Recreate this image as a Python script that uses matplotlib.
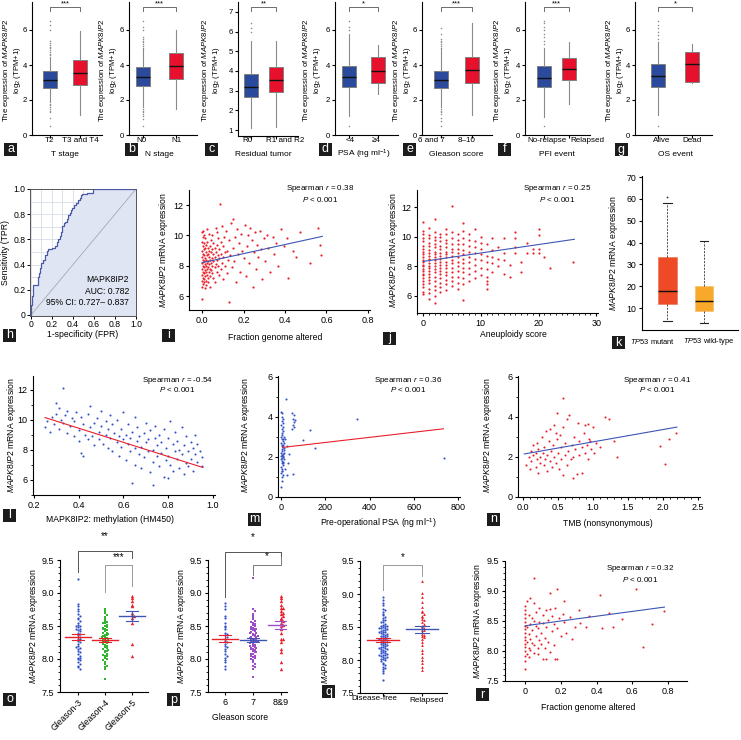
import numpy as np
import matplotlib
matplotlib.use("Agg")
import matplotlib.pyplot as plt
from matplotlib.patches import Rectangle
from matplotlib.ticker import MultipleLocator, FixedLocator

plt.rcParams['font.family'] = ['Liberation Sans', 'DejaVu Sans']
plt.rcParams['mathtext.fontset'] = 'custom'
plt.rcParams['mathtext.rm'] = 'Liberation Sans'
plt.rcParams['mathtext.it'] = 'Liberation Sans:italic'
plt.rcParams['axes.linewidth'] = 0.8

W, H = 741, 740

# ------------------------------------------------------------------ data
# row 1 box plots: [whisker low, Q1, median, Q3, whisker high]
a_cats = ["T2", "T3 and T4"]
a_blue = [1.9, 2.69, 3.12, 3.64, 4.45]
a_blue_fl = [0.5, 1.0, 1.3, 1.4, 1.5, 1.6, 1.7, 1.8, 4.55, 4.65, 4.75, 4.85, 4.95, 5.05,
             5.15, 5.25, 5.35, 6.0, 6.3, 6.5]
a_red = [1.14, 2.84, 3.54, 4.30, 5.93]
a_red_fl = []

b_cats = ["N0", "N1"]
b_blue = [1.6, 2.8, 3.3, 3.9, 4.9]
b_blue_fl = [0.5, 0.9, 1.1, 1.2, 1.3, 1.4, 1.5, 5.0, 5.1, 5.2, 5.3, 5.4, 5.5, 5.6, 6.0, 6.2, 6.5]
b_red = [1.5, 3.2, 3.96, 4.67, 6.0]
b_red_fl = []

c_cats = ["R0", "R1 and R2"]
c_blue = [1.1, 2.69, 3.2, 3.85, 5.5]
c_blue_fl = [5.98, 6.19, 6.44]
c_red = [1.17, 2.93, 3.54, 4.22, 5.5]
c_red_fl = []

d_cats = ["<4", "\u22654"]
d_blue = [1.1, 2.72, 3.3, 3.96, 5.8]
d_blue_fl = [0.5, 6.0, 6.2, 6.5]
d_red = [2.34, 2.95, 3.67, 4.47, 5.17]
d_red_fl = []

e_cats = ["6 and 7", "8\u201310"]
e_blue = [1.6, 2.67, 3.14, 3.67, 4.9]
e_blue_fl = [0.5, 0.8, 1.0, 1.2, 1.3, 1.4, 1.5, 5.0, 5.1, 5.2, 5.3, 5.4, 5.5, 5.8, 6.1]
e_red = [1.14, 2.95, 3.71, 4.47, 6.38]
e_red_fl = []

f_cats = ["No-relapse", "Relapsed"]
f_blue = [1.05, 2.76, 3.27, 3.94, 5.0]
f_blue_fl = [0.5, 5.2, 5.4, 5.6, 5.8, 6.0, 6.2, 6.4, 6.5]
f_red = [1.77, 3.14, 3.75, 4.42, 5.33]
f_red_fl = []

g_cats = ["Alive", "Dead"]
g_blue = [1.14, 2.76, 3.37, 4.04, 5.3]
g_blue_fl = [0.5, 5.5, 5.7, 5.9, 6.1, 6.3, 6.5]
g_red = [2.95, 3.05, 4.06, 4.73, 5.18]
g_red_fl = []

# h: ROC curve
roc_fpr = [0.000, 0.007, 0.015, 0.020, 0.040, 0.070, 0.080, 0.090, 0.100, 0.115, 0.130, 0.150,
           0.165, 0.180, 0.200, 0.230, 0.245, 0.260, 0.275, 0.290, 0.300, 0.310, 0.325, 0.340,
           0.355, 0.370, 0.380, 0.390, 0.410, 0.430, 0.450, 0.470, 0.480, 0.490, 0.530, 0.590,
           0.750, 1.000]
roc_tpr = [0.000, 0.080, 0.150, 0.240, 0.240, 0.240, 0.300, 0.330, 0.370, 0.410, 0.440, 0.480,
           0.510, 0.520, 0.520, 0.530, 0.550, 0.580, 0.600, 0.630, 0.660, 0.710, 0.730, 0.740,
           0.760, 0.790, 0.810, 0.830, 0.850, 0.870, 0.890, 0.910, 0.930, 0.950, 0.960, 0.970,
           1.000, 1.000]
roc_ytick_labels = ["0", "0.2", "0.4", "0.8", "0.8", "1.0"]

# i: fraction genome altered vs expression
i_pts = [(0.000, 7.0), (0.000, 7.4), (0.000, 7.8), (0.000, 8.2), (0.000, 8.6), (0.000, 9.0),
         (0.000, 9.6), (0.000, 10.2), (0.000, 6.6), (0.000, 5.8), (0.005, 7.2), (0.005, 7.6),
         (0.005, 8.0), (0.005, 8.4), (0.005, 8.8), (0.005, 9.3), (0.005, 9.9), (0.005, 6.8),
         (0.005, 10.3), (0.010, 7.1), (0.010, 7.5), (0.010, 7.9), (0.010, 8.3), (0.010, 8.7),
         (0.010, 9.1), (0.010, 9.5), (0.010, 6.9), (0.010, 10.0), (0.015, 7.3), (0.015, 7.7),
         (0.015, 8.1), (0.015, 8.5), (0.015, 9.2), (0.015, 6.5), (0.015, 9.8), (0.020, 7.0),
         (0.020, 7.6), (0.020, 8.0), (0.020, 8.4), (0.020, 8.9), (0.020, 9.4), (0.020, 6.7),
         (0.025, 7.4), (0.025, 7.8), (0.025, 8.2), (0.025, 8.7), (0.025, 9.6), (0.025, 10.4),
         (0.030, 7.2), (0.030, 7.9), (0.030, 8.3), (0.030, 8.8), (0.030, 9.2), (0.030, 6.9),
         (0.035, 7.6), (0.035, 8.1), (0.035, 8.6), (0.035, 9.0), (0.035, 10.1), (0.040, 7.3),
         (0.040, 7.8), (0.040, 8.4), (0.040, 9.3), (0.040, 6.6), (0.045, 7.7), (0.045, 8.2),
         (0.045, 8.9), (0.045, 9.7), (0.050, 7.5), (0.050, 8.0), (0.050, 8.5), (0.050, 9.1),
         (0.050, 10.0), (0.055, 7.2), (0.055, 8.3), (0.055, 8.8), (0.055, 9.5), (0.060, 7.9),
         (0.060, 8.6), (0.060, 9.2), (0.060, 6.9), (0.065, 8.1), (0.065, 8.9), (0.065, 10.5),
         (0.070, 7.6), (0.070, 8.4), (0.070, 9.4), (0.070, 10.2), (0.075, 8.0), (0.075, 8.7),
         (0.075, 9.8), (0.080, 7.4), (0.080, 8.5), (0.080, 9.1), (0.085, 12.1), (0.090, 7.8),
         (0.090, 8.8), (0.090, 9.6), (0.095, 8.2), (0.095, 10.6), (0.100, 7.1), (0.100, 8.6),
         (0.100, 9.3), (0.105, 9.9), (0.110, 8.0), (0.110, 8.9), (0.115, 10.3), (0.120, 7.5),
         (0.120, 9.0), (0.125, 8.4), (0.130, 5.6), (0.130, 9.7), (0.135, 8.7), (0.140, 10.8),
         (0.145, 7.9), (0.150, 11.1), (0.150, 9.2), (0.155, 8.3), (0.160, 9.9), (0.165, 6.9),
         (0.170, 10.4), (0.175, 8.8), (0.180, 9.5), (0.185, 7.6), (0.190, 10.1), (0.195, 9.0),
         (0.200, 8.5), (0.205, 10.7), (0.210, 7.3), (0.215, 9.3), (0.220, 10.0), (0.225, 8.2),
         (0.230, 10.5), (0.240, 9.7), (0.245, 6.6), (0.250, 8.9), (0.255, 10.2), (0.260, 7.8),
         (0.265, 9.4), (0.270, 8.6), (0.280, 10.3), (0.285, 9.1), (0.290, 7.1), (0.300, 9.8),
         (0.305, 8.3), (0.315, 10.0), (0.320, 9.2), (0.330, 7.6), (0.340, 9.9), (0.345, 8.8),
         (0.355, 9.5), (0.365, 8.0), (0.380, 10.4), (0.395, 9.3), (0.410, 9.8), (0.415, 7.2),
         (0.440, 9.0), (0.455, 8.6), (0.470, 10.2), (0.520, 8.2), (0.560, 10.5), (0.570, 9.4),
         (0.575, 8.7)]
i_fit = [8.2, 3.0]          # intercept, slope
i_fit_range = [0.0, 0.58]

# j: aneuploidy score vs expression (score, expression values)
j_cols = [(0, [6.1, 6.3, 6.6, 6.8, 7.0, 7.2, 7.4, 7.5, 7.7, 7.8, 8.0, 8.1, 8.3, 8.4, 8.6, 8.8,
               9.0, 9.2, 9.4, 9.7, 9.9, 10.2, 10.4, 11.0]),
          (1, [5.8, 6.2, 6.5, 6.9, 7.1, 7.3, 7.5, 7.7, 7.9, 8.0, 8.2, 8.4, 8.5, 8.7, 8.9, 9.1,
               9.4, 9.6, 9.9, 10.1, 10.6]),
          (2, [5.5, 6.0, 6.4, 6.7, 7.0, 7.3, 7.6, 7.8, 8.0, 8.2, 8.4, 8.6, 8.8, 9.0, 9.3, 9.5,
               9.8, 10.0, 10.3, 11.2]),
          (3, [6.3, 6.6, 6.9, 7.2, 7.5, 7.7, 7.9, 8.1, 8.3, 8.5, 8.7, 8.9, 9.2, 9.4, 9.7, 10.0,
               10.2]),
          (4, [6.4, 6.8, 7.1, 7.4, 7.6, 7.9, 8.1, 8.3, 8.6, 8.8, 9.0, 9.3, 9.6, 9.8, 10.2, 10.5]),
          (5, [6.7, 7.0, 7.3, 7.6, 7.9, 8.2, 8.4, 8.7, 9.0, 9.2, 9.5, 9.9, 10.3, 12.1]),
          (6, [6.5, 6.9, 7.3, 7.7, 8.0, 8.3, 8.6, 8.9, 9.2, 9.5, 9.8, 10.2]),
          (7, [5.7, 6.8, 7.2, 7.6, 7.9, 8.2, 8.5, 8.8, 9.1, 9.5, 9.9, 10.4, 10.9]),
          (8, [7.0, 7.5, 7.9, 8.3, 8.6, 9.0, 9.4, 9.8, 10.2]),
          (9, [7.2, 7.7, 8.1, 8.5, 8.9, 9.3, 9.7, 10.5]),
          (10, [7.4, 7.9, 8.4, 8.8, 9.2, 9.6, 10.0]),
          (11, [6.5, 6.8, 7.0, 7.3, 7.8, 8.3, 8.7, 9.5]),
          (12, [7.6, 8.2, 8.6, 9.1, 9.9]),
          (13, [8.0, 8.5, 9.3]),
          (14, [7.5, 8.4, 8.9, 9.9]),
          (15, [7.3, 8.1]),
          (16, [8.9, 9.3, 9.9, 10.3]),
          (17, [7.6, 8.3]),
          (18, [8.9, 9.6]),
          (19, [8.9, 9.2]),
          (20, [8.9, 9.2, 10.1, 10.5]),
          (21, [8.6]),
          (22, [7.9]),
          (26, [8.3])]
j_fit = [8.33, 0.057]
j_fit_range = [0.0, 26.2]

# k: TP53 status box plot
k_cats = ["TP53 mutant", "TP53 wild-type"]
k_mutant = [4.2, 11.7, 17.9, 33.6, 58.3]
k_mutant_fl = [61.0]
k_wild = [3.0, 8.8, 13.3, 20.0, 40.9]
k_wild_fl = []

# l: methylation vs expression
l_pts = [(0.25, 9.5), (0.26, 9.9), (0.27, 9.2), (0.28, 10.2), (0.29, 9.7), (0.30, 11.1),
         (0.30, 10.4), (0.31, 10.8), (0.31, 9.4), (0.32, 10.0), (0.33, 12.1), (0.33, 9.8),
         (0.34, 10.3), (0.35, 9.1), (0.35, 10.6), (0.36, 9.6), (0.37, 10.1), (0.38, 8.9),
         (0.38, 9.9), (0.39, 10.5), (0.40, 9.3), (0.40, 8.6), (0.41, 10.2), (0.41, 7.8),
         (0.42, 9.7), (0.42, 7.6), (0.43, 9.0), (0.44, 10.4), (0.44, 8.7), (0.45, 9.5),
         (0.45, 10.9), (0.46, 8.9), (0.47, 9.8), (0.47, 8.3), (0.48, 10.1), (0.49, 9.2),
         (0.49, 8.7), (0.50, 9.6), (0.50, 10.6), (0.51, 8.4), (0.52, 9.0), (0.52, 9.9),
         (0.53, 8.1), (0.53, 9.4), (0.54, 10.3), (0.54, 8.8), (0.55, 9.7), (0.55, 7.9),
         (0.56, 9.1), (0.57, 8.5), (0.57, 10.0), (0.58, 8.9), (0.58, 7.6), (0.59, 9.4),
         (0.59, 8.2), (0.60, 10.5), (0.60, 8.7), (0.61, 9.0), (0.61, 7.3), (0.62, 8.4),
         (0.62, 9.7), (0.63, 7.9), (0.63, 8.8), (0.64, 5.8), (0.64, 9.2), (0.65, 8.1),
         (0.65, 7.0), (0.65, 10.2), (0.66, 8.6), (0.66, 9.5), (0.67, 7.7), (0.67, 8.9),
         (0.68, 8.2), (0.68, 6.8), (0.69, 9.1), (0.69, 7.5), (0.70, 8.5), (0.70, 9.8),
         (0.71, 7.9), (0.71, 8.7), (0.72, 6.5), (0.72, 9.3), (0.73, 5.65), (0.73, 8.0),
         (0.73, 7.2), (0.74, 8.8), (0.74, 9.6), (0.75, 7.6), (0.75, 8.3), (0.76, 6.9),
         (0.76, 9.0), (0.77, 7.8), (0.77, 8.5), (0.78, 6.2), (0.78, 9.4), (0.79, 7.3),
         (0.79, 8.1), (0.80, 6.1), (0.80, 8.8), (0.80, 7.6), (0.81, 9.9), (0.81, 7.0),
         (0.82, 8.4), (0.82, 6.6), (0.83, 7.9), (0.83, 9.2), (0.84, 7.4), (0.84, 8.6),
         (0.85, 6.8), (0.85, 8.0), (0.86, 7.7), (0.86, 9.5), (0.87, 6.4), (0.87, 8.3),
         (0.88, 7.1), (0.88, 8.9), (0.89, 7.9), (0.89, 6.9), (0.90, 8.5), (0.90, 7.4),
         (0.91, 6.6), (0.91, 8.1), (0.92, 7.7), (0.92, 9.0), (0.93, 7.2), (0.93, 8.4),
         (0.94, 7.9), (0.95, 7.5), (0.95, 6.9)]
l_fit = [11.34, -4.72]
l_fit_range = [0.25, 0.955]

# m: pre-operational PSA vs expression
m_pts = [(2, 0.5), (3, 0.8), (5, 1.0), (1, 1.2), (4, 1.3), (6, 1.4), (2, 1.5), (8, 1.6), (3, 1.7),
         (5, 1.8), (1, 1.9), (7, 2.0), (4, 2.1), (2, 2.2), (6, 2.3), (3, 2.4), (9, 2.5), (5, 2.6),
         (1, 2.7), (8, 2.8), (4, 2.9), (2, 3.0), (6, 3.1), (3, 3.2), (10, 3.3), (5, 3.4), (7, 3.5),
         (2, 3.6), (4, 3.8), (6, 4.0), (3, 4.2), (1, 4.25), (9, 1.1), (11, 1.7), (12, 2.2),
         (10, 2.6), (13, 3.0), (14, 1.9), (12, 2.35), (8, 2.15), (15, 2.45), (11, 2.05), (7, 1.75),
         (9, 2.9), (6, 2.55), (13, 2.7), (4, 1.95), (2, 2.05), (8, 3.7), (10, 3.9), (23, 4.9),
         (50, 4.2), (52, 3.9), (55, 3.6), (58, 3.75), (60, 4.1), (48, 3.4), (62, 3.85), (57, 3.5),
         (36, 2.15), (100, 2.85), (132, 3.35), (155, 2.45), (345, 3.9), (736, 1.95), (27, 1.1),
         (54, 1.15), (5, 1.3), (18, 1.4), (20, 2.9), (25, 2.55), (30, 1.7)]
m_fit = [2.47, 0.00128]
m_fit_range = [7.0, 734.0]

# n: TMB vs expression
n_pts = [(0.05, 1.6), (0.08, 2.0), (0.10, 1.4), (0.12, 2.3), (0.12, 1.8), (0.15, 2.1),
         (0.15, 2.6), (0.18, 1.5), (0.18, 2.2), (0.20, 1.9), (0.20, 2.7), (0.22, 1.2),
         (0.22, 2.4), (0.25, 2.0), (0.25, 1.7), (0.27, 3.0), (0.28, 2.2), (0.30, 1.6),
         (0.30, 2.5), (0.32, 1.9), (0.33, 3.3), (0.35, 2.1), (0.35, 1.3), (0.37, 2.8),
         (0.38, 1.8), (0.39, 3.4), (0.40, 2.3), (0.42, 1.5), (0.43, 2.6), (0.45, 2.0),
         (0.45, 3.6), (0.47, 3.2), (0.47, 1.7), (0.48, 2.9), (0.49, 4.2), (0.50, 2.2),
         (0.52, 1.4), (0.53, 3.1), (0.55, 2.5), (0.55, 1.9), (0.57, 4.95), (0.57, 1.1),
         (0.57, 3.5), (0.60, 2.1), (0.60, 2.7), (0.63, 3.9), (0.63, 1.6), (0.65, 2.3),
         (0.66, 4.1), (0.68, 1.9), (0.70, 2.6), (0.71, 0.95), (0.72, 2.0), (0.73, 3.0),
         (0.75, 2.4), (0.77, 1.15), (0.79, 3.7), (0.80, 2.8), (0.80, 2.1), (0.84, 1.2),
         (0.85, 2.5), (0.87, 3.2), (0.88, 2.2), (0.89, 3.6), (0.92, 2.6), (0.93, 3.65),
         (0.93, 1.9), (0.95, 2.9), (0.96, 2.8), (0.97, 2.4), (1.00, 3.5), (1.02, 2.2),
         (1.05, 2.7), (1.10, 2.5), (1.17, 4.0), (1.23, 3.9), (1.30, 2.8), (1.35, 2.0),
         (1.96, 2.55), (2.03, 1.65), (2.09, 2.9), (2.19, 3.2)]
n_fit = [2.14, 0.616]
n_fit_range = [0.02, 2.2]

# o: Gleason pattern groups
o_cats = ["Gleason-3", "Gleason-4", "Gleason-5"]
o_g3 = [9.21, 8.83, 8.80, 8.75, 8.72, 8.68, 8.65, 8.62, 8.60, 8.57, 8.55, 8.52, 8.50, 8.48,
        8.46, 8.44, 8.42, 8.40, 8.38, 8.36, 8.34, 8.31, 8.28, 8.25, 8.22, 8.20, 8.17, 8.15,
        8.12, 8.10, 8.08, 8.05, 8.02, 8.00, 7.98, 7.95, 7.93, 7.90, 7.88, 7.85, 8.45, 8.50,
        8.30, 8.18, 8.02]
o_g4 = [8.75, 8.72, 8.70, 8.66, 8.63, 8.60, 8.58, 8.56, 8.54, 8.52, 8.50, 8.48, 8.47, 8.45,
        8.44, 8.42, 8.40, 8.39, 8.37, 8.36, 8.35, 8.33, 8.32, 8.31, 8.30, 8.29, 8.28, 8.27,
        8.25, 8.24, 8.22, 8.21, 8.20, 8.18, 8.17, 8.15, 8.14, 8.12, 8.10, 8.08, 8.06, 8.04,
        8.02, 8.00, 7.98, 7.95, 7.92, 7.90, 7.88, 7.85, 7.70, 8.38, 8.26, 8.12, 8.45, 8.55,
        8.05, 8.33]
o_g5 = [8.05, 8.22, 8.55, 8.62, 8.65, 8.67, 8.70, 8.80, 8.82, 8.88, 8.93, 8.96]

# p: Gleason score groups
p_cats = ["6", "7", "8&9"]
p_6 = [8.85, 8.80, 8.75, 8.65, 8.62, 8.55, 8.50, 8.45, 8.40, 8.36, 8.33, 8.30, 8.28, 8.25,
       8.22, 8.20, 8.15, 8.12, 8.08, 8.05, 8.02, 7.98, 7.95, 7.90, 7.85, 8.48, 8.38, 8.18]
p_7 = [9.22, 8.75, 8.72, 8.68, 8.65, 8.62, 8.60, 8.58, 8.56, 8.55, 8.53, 8.52, 8.50, 8.48,
       8.47, 8.46, 8.45, 8.44, 8.42, 8.41, 8.40, 8.38, 8.37, 8.36, 8.35, 8.34, 8.33, 8.32,
       8.31, 8.30, 8.29, 8.28, 8.27, 8.26, 8.25, 8.24, 8.22, 8.21, 8.20, 8.18, 8.17, 8.16,
       8.15, 8.13, 8.12, 8.10, 8.08, 8.07, 8.05, 8.03, 8.02, 8.00, 7.98, 7.95, 7.92, 7.90,
       7.88, 7.85, 7.72, 8.45, 8.35, 8.25, 8.15, 8.05, 8.40, 8.30, 8.20, 8.10]
p_89 = [8.95, 8.92, 8.88, 8.82, 8.78, 8.72, 8.70, 8.68, 8.65, 8.62, 8.60, 8.58, 8.55, 8.50,
        8.45, 8.40, 8.30, 8.25, 8.15, 8.10, 8.30, 8.78, 7.95, 7.85, 8.52]

# q: relapse status
q_cats = ["Disease-free", "Relapsed"]
q_df = [8.95, 8.91, 8.86, 8.83, 8.78, 8.76, 8.72, 8.69, 8.68, 8.65, 8.64, 8.61, 8.60, 8.58,
        8.57, 8.55, 8.53, 8.52, 8.51, 8.50, 8.49, 8.48, 8.47, 8.46, 8.45, 8.44, 8.43, 8.42,
        8.41, 8.40, 8.39, 8.38, 8.37, 8.36, 8.35, 8.34, 8.33, 8.32, 8.31, 8.30, 8.29, 8.28,
        8.27, 8.26, 8.25, 8.24, 8.23, 8.22, 8.21, 8.20, 8.19, 8.18, 8.17, 8.16, 8.15, 8.14,
        8.13, 8.12, 8.11, 8.10, 8.09, 8.08, 8.07, 8.06, 8.05, 8.04, 8.03, 8.02, 8.01, 8.00,
        7.98, 7.96, 7.94, 7.92, 7.90, 7.88, 7.86, 7.84, 7.80, 7.70, 8.48, 8.36, 8.28, 8.18,
        8.08, 8.52, 8.42, 8.32]
q_rel = [9.20, 9.02, 8.95, 8.88, 8.80, 8.72, 8.70, 8.66, 8.62, 8.58, 8.55, 8.52, 8.50, 8.48,
         8.45, 8.42, 8.40, 8.38, 8.36, 8.32, 8.28, 8.22, 8.15, 8.10, 8.05, 8.00, 7.95, 7.90,
         7.85, 8.60, 8.45, 8.35, 8.65, 8.75]

# r: fraction genome altered vs expression
r_pts = [(0.0, 7.70), (0.0, 7.83), (0.0, 7.92), (0.0, 8.00), (0.0, 8.06), (0.0, 8.12),
         (0.0, 8.18), (0.0, 8.24), (0.0, 8.30), (0.0, 8.36), (0.0, 8.42), (0.0, 8.48),
         (0.0, 8.55), (0.0, 8.62), (0.0, 8.68), (0.0, 8.75), (0.01, 8.83), (0.01, 7.95),
         (0.01, 8.15), (0.01, 8.40), (0.02, 8.05), (0.02, 8.28), (0.02, 8.60), (0.02, 7.90),
         (0.03, 8.88), (0.03, 8.20), (0.03, 8.45), (0.03, 8.02), (0.04, 8.35), (0.04, 8.13),
         (0.04, 8.55), (0.05, 9.22), (0.05, 8.80), (0.05, 8.10), (0.05, 8.50), (0.05, 7.97),
         (0.06, 8.25), (0.06, 8.42), (0.06, 8.65), (0.07, 8.05), (0.07, 8.38), (0.07, 7.95),
         (0.08, 8.48), (0.08, 8.18), (0.08, 8.72), (0.09, 8.30), (0.09, 8.12), (0.10, 7.87),
         (0.10, 8.46), (0.10, 8.60), (0.11, 8.22), (0.11, 8.05), (0.12, 7.86), (0.12, 8.68),
         (0.12, 8.40), (0.13, 8.15), (0.13, 8.52), (0.14, 8.97), (0.14, 7.98), (0.14, 8.70),
         (0.15, 8.33), (0.15, 8.58), (0.16, 8.45), (0.16, 8.10), (0.17, 8.72), (0.17, 7.86),
         (0.18, 9.04), (0.18, 8.38), (0.18, 7.87), (0.19, 8.55), (0.20, 8.25), (0.21, 8.62),
         (0.22, 8.84), (0.22, 8.48), (0.23, 8.30), (0.25, 8.56), (0.26, 8.20), (0.28, 8.40),
         (0.30, 8.68), (0.31, 8.46), (0.34, 8.40), (0.36, 8.58), (0.42, 8.94), (0.43, 8.38),
         (0.47, 8.63), (0.49, 8.40), (0.54, 8.54), (0.62, 9.04), (0.66, 8.07), (0.71, 8.45),
         (0.78, 8.66)]
r_fit = [8.42, 0.40]
r_fit_range = [0.0, 0.78]

# ------------------------------------------------------------------ helpers
BLUE_BOX, RED_BOX = '#2b4a9b', '#e8112d'
BLUE_PT, RED_PT, GREEN_PT, PURPLE_PT = '#3352c8', '#e8202a', '#2fb52f', '#a24bc8'
LINE_BLUE, LINE_RED = '#3d55b5', '#e8202a'

fig = plt.figure(figsize=(W / 100, H / 100), dpi=100)
fig.patch.set_facecolor('white')


def pax(x0, y0, x1, y1):
    return fig.add_axes([x0 / W, 1 - y1 / H, (x1 - x0) / W, (y1 - y0) / H])


def ftext(x, y, s, **kw):
    kw.setdefault('fontsize', 6.2)
    kw.setdefault('ha', 'center')
    kw.setdefault('va', 'center')
    return fig.text(x / W, 1 - y / H, s, **kw)


def tag(x0, y0, s):
    fig.add_artist(Rectangle((x0 / W, 1 - (y0 + 13) / H), 13 / W, 13 / H,
                             transform=fig.transFigure, fc='#1c1c1c', ec='none'))
    ftext(x0 + 6.5, y0 + 6.5, s, color='white', fontsize=9)


def style(ax, fs=6.5):
    for s in ('top', 'right'):
        ax.spines[s].set_visible(False)
    ax.tick_params(labelsize=fs, length=2.5, width=0.8, pad=1.5)
    ax.tick_params(which='minor', length=1.5, width=0.6)


GENE_Y = '$\\mathit{MAPK8IP2}$ mRNA expression'


def spearman(x, y, r):
    ftext(x, y, 'Spearman $\\mathit{r}$ = ' + r, fontsize=5.8)
    ftext(x, y + 10, '$\\mathit{P}$ < 0.001', fontsize=5.8)


# ------------------------------------------------------------------ row 1
def box_panel(left, c1, c2, right, ylim, yticks, cats, lab_x, lo, hi, lo_fl, hi_fl,
              xlab, stars, ylab_x, tagpos, letter, top=2, bottom=135):
    u = c2 - c1
    ax = pax(left, top, right, bottom)
    ax.set_xlim(1 - (c1 - left) / u, 2 + (right - c2) / u)
    ax.set_ylim(*ylim)
    stats = [dict(whislo=s[0], q1=s[1], med=s[2], q3=s[3], whishi=s[4], fliers=fl)
             for s, fl in ((lo, lo_fl), (hi, hi_fl))]
    bp = ax.bxp(stats, positions=[1, 2], widths=14 / u, patch_artist=True, showcaps=False,
                boxprops=dict(edgecolor='#7f7f7f', linewidth=0.7),
                medianprops=dict(color='#111111', linewidth=1.0),
                whiskerprops=dict(color='#8a8a8a', linewidth=0.8),
                flierprops=dict(marker='o', markersize=1.1, markerfacecolor='#8c8c8c',
                                markeredgecolor='none'))
    for b, c in zip(bp['boxes'], [BLUE_BOX, RED_BOX]):
        b.set_facecolor(c)
    style(ax, fs=5.6)
    ax.tick_params(axis='y', pad=1)
    ax.set_yticks(yticks)
    ax.set_xticks([1, 2])
    ax.set_xticklabels(['', ''])
    ax.tick_params(axis='x', length=2, pad=1)
    for lx, cat in zip(lab_x, cats):
        ftext(lx, 141, cat, fontsize=5.8)

    def pyd(py):
        return ylim[1] - (py - top) / (bottom - top) * (ylim[1] - ylim[0])
    ax.plot([1, 1, 2, 2], [pyd(11), pyd(7), pyd(7), pyd(11)], color='#555555', lw=0.6,
            clip_on=False)
    ax.text(1.5, pyd(4), stars, ha='center', va='center', fontsize=5.5, clip_on=False)
    ftext((c1 + c2) / 2, 154, xlab, fontsize=6.0)
    ftext(ylab_x, 70, 'The expression of $\\mathit{MAPK8IP2}$\nlog$_2$ (TPM+1)',
          rotation=90, fontsize=5.6, linespacing=1.1)
    tag(tagpos, 143, letter)


box_panel(32, 50, 80, 102, (0, 7.6), [0, 2, 4, 6], a_cats, [50, 80], a_blue, a_red,
          a_blue_fl, a_red_fl, 'T stage', '***', 12, 4, 'a')
box_panel(129, 143, 176, 197, (0, 7.6), [0, 2, 4, 6], b_cats, [141, 177], b_blue, b_red,
          b_blue_fl, b_red_fl, 'N stage', '***', 108, 125, 'b')
box_panel(238, 251, 276, 298, (0.7, 7.5), [1, 2, 3, 4, 5, 6, 7], c_cats, [247, 285],
          c_blue, c_red, c_blue_fl, c_red_fl, 'Residual tumor', '**', 211, 205, 'c',
          bottom=136)
box_panel(335, 349, 378, 398, (0, 7.6), [0, 2, 4, 6], d_cats, [350, 376], d_blue, d_red,
          d_blue_fl, d_red_fl, 'PSA (ng ml$^{-1}$)', '*', 312, 319, 'd')
box_panel(422, 441, 472, 492, (0, 7.6), [0, 2, 4, 6], e_cats, [431, 467], e_blue, e_red,
          e_blue_fl, e_red_fl, 'Gleason score', '***', 402, 403, 'e')
box_panel(525, 544, 569, 590, (0, 7.6), [0, 2, 4, 6], f_cats, [547, 587], f_blue, f_red,
          f_blue_fl, f_red_fl, 'PFI event', '***', 503, 498, 'f')
box_panel(635, 658, 692, 712, (0, 7.6), [0, 2, 4, 6], g_cats, [662, 692], g_blue, g_red,
          g_blue_fl, g_red_fl, 'OS event', '*', 615, 615, 'g')

# ------------------------------------------------------------------ h: ROC
ax = pax(30, 189, 136, 316)
ax.set_xlim(-0.0095, 1.0)
ax.set_ylim(-0.008, 1.0)
ax.set_facecolor('white')
ax.xaxis.set_minor_locator(MultipleLocator(0.1))
ax.yaxis.set_minor_locator(MultipleLocator(0.1))
ax.grid(which='both', color='#cdd4e4', lw=0.5)
ax.set_axisbelow(True)
ax.fill_between(roc_fpr, roc_tpr, 0, step='pre', color='#dfe5f3', lw=0, zorder=1)
ax.plot([0, 1], [0, 1], color='#a8a8b0', lw=0.6, zorder=2)
ax.plot(roc_fpr, roc_tpr, drawstyle='steps-pre', color='#4a5aa8', lw=0.9, zorder=3)
for s in ax.spines.values():
    s.set_color('#555555')
    s.set_linewidth(0.7)
ax.tick_params(labelsize=6.2, length=2, pad=1.0, width=0.7)
ax.tick_params(which='minor', length=0)
ax.set_xticks([0, 0.2, 0.4, 0.6, 0.8, 1.0])
ax.set_xticklabels(['0', '0.2', '0.4', '0.6', '0.8', '1.0'])
ax.set_yticks([0, 0.2, 0.4, 0.6, 0.8, 1.0])
ax.set_yticklabels(roc_ytick_labels)
ftext(129, 280, 'MAPK8IP2', ha='right', fontsize=6.2)
ftext(129, 291, 'AUC: 0.782', ha='right', fontsize=6.2)
ftext(129, 303, '95% CI: 0.727\u2013 0.837', ha='right', fontsize=6.2)
ftext(6, 252, 'Sensitivity (TPR)', rotation=90)
ftext(83, 334, '1-specificity (FPR)')
tag(3, 329, 'h')

# ------------------------------------------------------------------ i
ix, iy = np.array(i_pts).T
ax = pax(189, 190, 370, 310)
style(ax)
ax.scatter(ix, iy, s=2.5, color=RED_PT, lw=0)
xs = np.array(i_fit_range)
ax.plot(xs, i_fit[0] + i_fit[1] * xs, color=LINE_BLUE, lw=0.8)
ax.set_xlim(-0.063, 0.81)
ax.set_ylim(5.08, 13.0)
ax.set_xticks([0, 0.2, 0.4, 0.6, 0.8])
ax.set_xticklabels(['0.0', '0.2', '0.4', '0.6', '0.8'])
ax.set_yticks([6, 8, 10, 12])
spearman(320, 189, '0.38')
ftext(164, 250, GENE_Y, rotation=90)
ftext(275, 338, 'Fraction genome altered')
tag(162, 329, 'i')

# ------------------------------------------------------------------ j
jx = [s for s, ys in j_cols for _ in ys]
jy = [v for s, ys in j_cols for v in ys]
ax = pax(417, 190, 598, 313)
style(ax)
ax.scatter(jx, jy, s=2.5, color=RED_PT, lw=0)
xs = np.array(j_fit_range)
ax.plot(xs, j_fit[0] + j_fit[1] * xs, color=LINE_BLUE, lw=0.8)
ax.set_xlim(-1.05, 30.3)
ax.set_ylim(4.85, 13.15)
ax.set_xticks([0, 10, 20, 30])
ax.xaxis.set_minor_locator(MultipleLocator(1))
ax.set_yticks([6, 8, 10, 12])
spearman(557, 189, '0.25')
ftext(394, 250, GENE_Y, rotation=90)
ftext(513, 335, 'Aneuploidy score')
tag(383, 332, 'j')

# ------------------------------------------------------------------ k
ax = pax(642, 176, 738, 330)
ax.set_xlim(0.32, 2.92)
ax.set_ylim(0, 70.5)
kst = [dict(whislo=s[0], q1=s[1], med=s[2], q3=s[3], whishi=s[4], fliers=fl)
       for s, fl in ((k_mutant, k_mutant_fl), (k_wild, k_wild_fl))]
bp = ax.bxp(kst, positions=[1, 2], widths=0.51, patch_artist=True, capwidths=0.24,
            boxprops=dict(linewidth=0.5),
            medianprops=dict(color='#111111', linewidth=1.0),
            whiskerprops=dict(color='#333333', linewidth=0.6, linestyle=(0, (2.5, 1.5))),
            capprops=dict(color='#222222', linewidth=0.8),
            flierprops=dict(marker='o', markersize=1.3, markerfacecolor='#333333',
                            markeredgecolor='none'))
for b, fc, ec in zip(bp['boxes'], ['#ef4a26', '#f8a92c'], ['#f07a60', '#f9c070']):
    b.set_facecolor(fc)
    b.set_edgecolor(ec)
style(ax, fs=6.3)
ax.set_yticks([10, 20, 30, 40, 50, 60, 70])
ax.set_xticks([])
ftext(652, 342, '$\\mathit{TP53}$ mutant', fontsize=5.4)
ftext(709, 342, '$\\mathit{TP53}$ wild-type', fontsize=5.4)
ftext(614, 253, GENE_Y, rotation=90)
tag(612, 336, 'k')

# ------------------------------------------------------------------ l
lx, ly = np.array(l_pts).T
ax = pax(33, 376, 215, 495)
style(ax)
ax.scatter(lx, ly, s=2.2, color=BLUE_PT, lw=0)
xs = np.array(l_fit_range)
ax.plot(xs, l_fit[0] + l_fit[1] * xs, color=LINE_RED, lw=0.8)
ax.set_xlim(0.196, 1.009)
ax.set_ylim(5, 12.93)
ax.set_xticks([0.2, 0.4, 0.6, 0.8, 1.0])
ax.set_xticklabels(['0.2', '0.4', '0.6', '0.8', '1.0'])
ax.set_yticks([6, 8, 10, 12])
ax.yaxis.set_minor_locator(MultipleLocator(1))
spearman(177, 380, '-0.54')
ftext(12, 435, GENE_Y, rotation=90)
ftext(110, 519, 'MAPK8IP2: methylation (HM450)')
tag(3, 509, 'l')

# ------------------------------------------------------------------ m
mx, my = np.array(m_pts).T
ax = pax(278, 376, 460, 497)
style(ax)
ax.scatter(mx, my, s=2.2, color=BLUE_PT, lw=0)
xs = np.array(m_fit_range)
ax.plot(xs, m_fit[0] + m_fit[1] * xs, color=LINE_RED, lw=0.8)
ax.set_xlim(-13.6, 809)
ax.set_ylim(0, 6.05)
ax.set_xticks([0, 200, 400, 600, 800])
ax.set_yticks([0, 2, 4, 6])
ax.yaxis.set_minor_locator(MultipleLocator(1))
spearman(408, 380, '0.36')
ftext(245, 435, GENE_Y, rotation=90)
ftext(378, 523, 'Pre-operational PSA (ng ml$^{-1}$)')
tag(248, 513, 'm')

# ------------------------------------------------------------------ n
nx, ny = np.array(n_pts).T
ax = pax(518, 376, 700, 497)
style(ax)
ax.scatter(nx, ny, s=2.2, color=RED_PT, lw=0)
xs = np.array(n_fit_range)
ax.plot(xs, n_fit[0] + n_fit[1] * xs, color=LINE_BLUE, lw=0.8)
ax.set_xlim(-0.07, 2.53)
ax.set_ylim(0, 6.05)
ax.set_xticks([0, 0.5, 1.0, 1.5, 2.0, 2.5])
ax.set_xticklabels(['0.0', '0.5', '1.0', '1.5', '2.0', '2.5'])
ax.xaxis.set_minor_locator(MultipleLocator(0.1))
ax.set_yticks([0, 2, 4, 6])
ax.yaxis.set_minor_locator(MultipleLocator(1))
spearman(657, 380, '0.41')
ftext(487, 435, GENE_Y, rotation=90)
ftext(608, 523, 'TMB (nonsynonymous)')
tag(487, 513, 'n')


# ------------------------------------------------------------------ row 4 dot plots
def swarm(vals, step, bin_h):
    vals = np.asarray(vals, float)
    offs = np.zeros(len(vals))
    bins = np.floor((vals - vals.min()) / bin_h).astype(int)
    for b in np.unique(bins):
        idx = np.where(bins == b)[0]
        for k, i in enumerate(idx):
            offs[i] = ((k + 1) // 2) * step * (1 if k % 2 else -1)
    return offs


def meanbar(ax, x, vals, color, half_w, cap_w):
    m = np.mean(vals)
    se = np.std(vals, ddof=1) / np.sqrt(len(vals))
    ax.plot([x - half_w, x + half_w], [m, m], color=color, lw=1.0, zorder=4)
    ax.plot([x, x], [m - se, m + se], color=color, lw=0.8, zorder=4)
    for yy in (m - se, m + se):
        ax.plot([x - cap_w, x + cap_w], [yy, yy], color=color, lw=0.8, zorder=4)


def dot_axes(x0, x1, c1, c2, top, y95, y75):
    u = c2 - c1
    unit = (y75 - y95) / 2.0
    ax = pax(x0, top, x1, y75)
    ax.set_xlim(1 - (c1 - x0) / u, 2 + (x1 - c2) / u)
    ax.set_ylim(7.5, 7.5 + (y75 - top) / unit)
    style(ax)
    ax.spines['left'].set_bounds(7.5, 9.5)
    ax.set_yticks([7.5, 8.0, 8.5, 9.0, 9.5])
    ax.set_yticklabels(['7.5', '8.0', '8.5', '9.0', '9.5'])
    ax.yaxis.set_minor_locator(FixedLocator([v / 10 for v in range(76, 95) if v % 5]))

    def pyd(py):
        return 7.5 + (y75 - py) / unit
    return ax, pyd


def bracket(ax, pyd, xa, xb, py_h, py_a, py_b, stars, py_s, color):
    ax.plot([xa, xa, xb, xb], [pyd(py_a), pyd(py_h), pyd(py_h), pyd(py_b)], color=color,
            lw=0.7, clip_on=False)
    ax.text((xa + xb) / 2, pyd(py_s), stars, ha='center', va='center', fontsize=7,
            clip_on=False)


# o
ax, pyd = dot_axes(60, 148, 78, 105, 528, 560, 692)
for pos, vals, col, mk, sz, mcol in ((1, o_g3, BLUE_PT, 'o', 2.5, LINE_RED),
                                     (2, o_g4, GREEN_PT, 's', 2.5, LINE_RED),
                                     (3, o_g5, RED_PT, '^', 6, LINE_BLUE)):
    ax.scatter(pos + swarm(vals, 0.06, 0.04), vals, s=sz, color=col, marker=mk, lw=0, zorder=3)
    meanbar(ax, pos, vals, mcol, 0.48, 0.22)
ax.set_xticks([1, 2, 3])
ax.set_xticklabels(o_cats, rotation=45, ha='right', va='top', rotation_mode='anchor',
                   fontsize=6.2)
bracket(ax, pyd, 1, 3, 551, 572, 558, '**', 536, '#555555')
bracket(ax, pyd, 2, 3, 565, 592, 586, '***', 557, '#999999')
ftext(33, 626, GENE_Y, rotation=90)
tag(3, 693, 'o')

# p
ax, pyd = dot_axes(208, 287, 225, 253, 528, 560, 692)
for pos, vals, col, mk, sz, mcol in ((1, p_6, BLUE_PT, 'o', 2.5, LINE_RED),
                                     (2, p_7, PURPLE_PT, 's', 2.5, LINE_BLUE),
                                     (3, p_89, RED_PT, '^', 6, PURPLE_PT)):
    ax.scatter(pos + swarm(vals, 0.06, 0.04), vals, s=sz, color=col, marker=mk, lw=0, zorder=3)
    meanbar(ax, pos, vals, mcol, 0.48, 0.22)
ax.set_xticks([1, 2, 3])
ax.set_xticklabels(p_cats)
bracket(ax, pyd, 1, 3, 552, 597, 557, '*', 537, '#555555')
bracket(ax, pyd, 2, 3, 565, 575, 557, '*', 556, '#777777')
ftext(182, 626, GENE_Y, rotation=90)
ftext(240, 718, 'Gleason score')
tag(167, 693, 'p')

# q
ax, pyd = dot_axes(360, 447, 383, 422, 528, 561, 693)
for pos, vals, col, mk, sz, mcol in ((1, q_df, BLUE_PT, 'o', 2.5, LINE_RED),
                                     (2, q_rel, RED_PT, '^', 4, LINE_BLUE)):
    ax.scatter(pos + swarm(vals, 0.045, 0.035), vals, s=sz, color=col, marker=mk, lw=0,
               zorder=3)
    meanbar(ax, pos, vals, mcol, 0.42, 0.18)
ax.set_xticks([1, 2])
ax.set_xticklabels(['', ''])
ftext(374, 699, q_cats[0], fontsize=5.9)
ftext(427, 700, q_cats[1], fontsize=5.9)
bracket(ax, pyd, 1, 2, 565, 590, 576, '*', 557, '#999999')
ftext(325, 626, GENE_Y, rotation=90)
tag(322, 685, 'q')

# r
rx, ry = np.array(r_pts).T
ax = pax(505, 561, 687, 681)
style(ax)
ax.scatter(rx, ry, s=2.2, color=RED_PT, lw=0)
xs = np.array(r_fit_range)
ax.plot(xs, r_fit[0] + r_fit[1] * xs, color=LINE_BLUE, lw=0.8)
ax.set_xlim(-0.112, 0.906)
ax.set_ylim(7.5, 9.5)
ax.set_xticks([0, 0.2, 0.4, 0.6, 0.8])
ax.set_xticklabels(['0', '0.2', '0.4', '0.6', '0.8'])
ax.set_yticks([7.5, 8.0, 8.5, 9.0, 9.5])
ax.set_yticklabels(['7.5', '8.0', '8.5', '9.0', '9.5'])
ax.yaxis.set_minor_locator(FixedLocator([v / 10 for v in range(76, 95) if v % 5]))
spearman(640, 569, '0.32')
ftext(478, 621, GENE_Y, rotation=90)
ftext(588, 708, 'Fraction genome altered')
tag(476, 688, 'r')

fig.savefig('out.png', dpi=100)
